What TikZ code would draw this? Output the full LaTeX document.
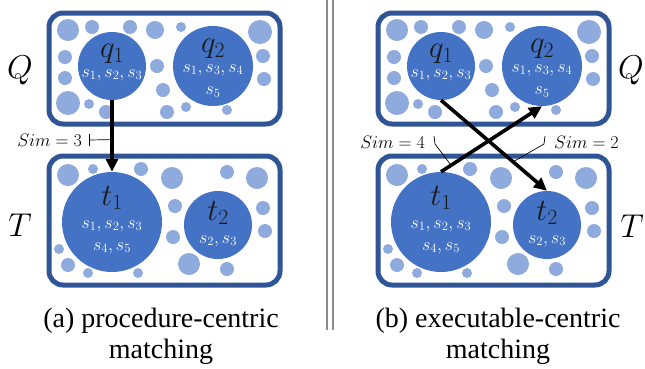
\RequirePackage{fix-cm}
\documentclass[tikz,border=0pt]{standalone}
\usepackage{fontspec}
\setmainfont{Liberation Serif}
\newfontfamily\capfont{Liberation Serif}
\usetikzlibrary{arrows.meta}
\definecolor{boxblue}{HTML}{2F5597}
\definecolor{bigblue}{HTML}{4472C4}
\definecolor{smallblue}{HTML}{8FAADC}
\definecolor{sepgray}{HTML}{8C8C8C}
\definecolor{labdark}{HTML}{1A1A1A}
\newcommand\qsmall{%
  \foreach \cx/\cy/\cr in {68/30/11,92/27/7,130/27/7,155/30/9,181/27/5,260/32/12,65/57/7,65/78/7,68/103/12,89/104/5,106/112/7,157/66/7,163/90/7,167/112/7,186/107/5,227/110/5,263/56/7,264/79/7}
    {\fill[smallblue] (\cx,\cy) circle[radius=\cr pt];}}
\newcommand\tsmall{%
  \foreach \cx/\cy/\cr in {68/175/11,93/169/5,141/169/7,172/178/11,227/172/7,257/178/11,175/206/7,173/237/7,263/208/7,265/231/7,59/249/5,68/265/7,88/273/5,138/273/5,189/264/11,227/269/7}
    {\fill[smallblue] (\cx,\cy) circle[radius=\cr pt];}}
\begin{document}
\begin{tikzpicture}[x=1pt,y=-1pt,
  frame/.style={draw=boxblue, line width=5pt, rounded corners=14pt, fill=white, minimum width=231pt, inner sep=0pt},
  bigc/.style={circle, fill=bigblue, inner sep=0pt, minimum size=#1},
  qlab/.style={text=labdark, font=\fontsize{31}{31}\selectfont, inner sep=0pt},
  slab/.style={text=white, font=\fontsize{18}{18}\selectfont, inner sep=0pt},
  setlab/.style={text=black, font=\fontsize{33}{33}\selectfont, inner sep=0pt},
  simlab/.style={text=black, font=\fontsize{18}{18}\selectfont, inner sep=0pt},
  arr/.style={draw=black, line width=3.6pt, -{Triangle[length=13pt,width=12pt]}},
  leader/.style={draw=black, line width=0.7pt},
  sep/.style={draw=sepgray, line width=1.4pt},
  captext/.style={font=\capfont\fontsize{28}{28}\selectfont, inner sep=0pt, anchor=base}
]
\useasboundingbox (0,0) rectangle (645,368);

% ---------- panel (a) ----------
\node[frame, minimum height=111pt] (Qa) at (164.5,68.5) {};
\node[frame, minimum height=129pt] (Ta) at (164.5,220.5) {};
\qsmall
\tsmall
\node[bigc=68pt] (q1a) at (112,66) {};
\node[bigc=80pt] (q2a) at (213,66) {};
\node[bigc=100pt] (t1a) at (112,222) {};
\node[bigc=68pt] (t2a) at (218,225) {};
\node[qlab] at ([yshift=12]q1a.center) {$q_1$};
\node[slab] at ([yshift=-9]q1a.center) {$s_1,s_2,s_3$};
\node[qlab] at ([yshift=17]q2a.center) {$q_2$};
\node[slab] at ([yshift=-4]q2a.center) {$s_1,s_3,s_4$};
\node[slab] at ([yshift=-26]q2a.center) {$s_5$};
\node[qlab] at ([yshift=24]t1a.center) {$t_1$};
\node[slab] at ([yshift=-4]t1a.center) {$s_1,s_2,s_3$};
\node[slab] at ([yshift=-26]t1a.center) {$s_4,s_5$};
\node[qlab] at ([yshift=12]t2a.center) {$t_2$};
\node[slab] at ([yshift=-16]t2a.center) {$s_2,s_3$};
\node[setlab] (Qla) at (20,70) {$Q$};
\node[setlab] (Tla) at (20,225) {$T$};
\draw[arr] (q1a.south) -- coordinate[pos=0.55] (a1) (t1a.north);
\coordinate (k3) at (89,140);
\draw[leader] (a1) -- (k3);
\draw[leader] ([yshift=-6pt]k3) -- ([yshift=6pt]k3);
\node[simlab, anchor=east] (sim3) at ([xshift=-7pt]k3) {$Sim=3$};
\node[captext] (capa1) at (161,327) {(a) procedure-centric};
\node[captext] (capa2) at (161,358) {matching};

% ---------- separator ----------
\coordinate (s1t) at (327,0); \coordinate (s1b) at (327,330);
\coordinate (s2t) at (333,0); \coordinate (s2b) at (333,330);
\draw[sep] (s1t) -- (s1b);
\draw[sep] (s2t) -- (s2b);

% ---------- panel (b) ----------
\node[frame, minimum height=111pt] (Qb) at (493.5,68.5) {};
\node[frame, minimum height=129pt] (Tb) at (493.5,220.5) {};
\begin{scope}[xshift=329pt]
\qsmall
\tsmall
\end{scope}
\node[bigc=68pt] (q1b) at (441,66) {};
\node[bigc=80pt] (q2b) at (542,66) {};
\node[bigc=100pt] (t1b) at (441,222) {};
\node[bigc=68pt] (t2b) at (547,225) {};
\node[qlab] at ([yshift=12]q1b.center) {$q_1$};
\node[slab] at ([yshift=-9]q1b.center) {$s_1,s_2,s_3$};
\node[qlab] at ([yshift=17]q2b.center) {$q_2$};
\node[slab] at ([yshift=-4]q2b.center) {$s_1,s_3,s_4$};
\node[slab] at ([yshift=-26]q2b.center) {$s_5$};
\node[qlab] at ([yshift=24]t1b.center) {$t_1$};
\node[slab] at ([yshift=-4]t1b.center) {$s_1,s_2,s_3$};
\node[slab] at ([yshift=-26]t1b.center) {$s_4,s_5$};
\node[qlab] at ([yshift=12]t2b.center) {$t_2$};
\node[slab] at ([yshift=-16]t2b.center) {$s_2,s_3$};
\node[setlab] (Qlb) at (631,70) {$Q$};
\node[setlab] (Tlb) at (632,226) {$T$};
\draw[arr] (q1b.south) -- coordinate[pos=0.68] (b2) (t2b.north);
\draw[arr] (t1b.north) -- coordinate[pos=0.1] (b4) (q2b.south);
\coordinate (k4b) at (435,144); \coordinate (k4t) at (434,136);
\coordinate (k2b) at (544,144); \coordinate (k2t) at (545,136);
\draw[leader] (b4) -- (k4b) -- (k4t);
\draw[leader] (b2) -- (k2b) -- (k2t);
\node[simlab, anchor=east] (sim4) at (425,142) {$Sim=4$};
\node[simlab, anchor=west] (sim2) at (554,142) {$Sim=2$};
\node[captext] (capb1) at (498,327) {(b) executable-centric};
\node[captext] (capb2) at (498,358) {matching};
\end{tikzpicture}
\end{document}
